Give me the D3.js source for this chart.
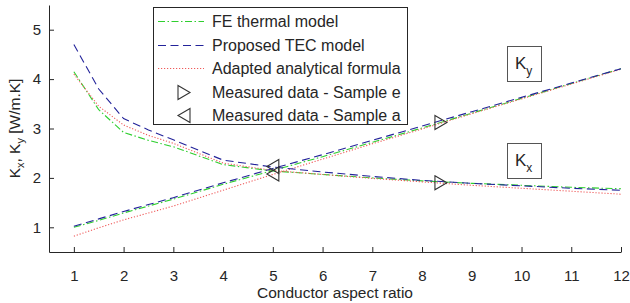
<!DOCTYPE html>
<html><head><meta charset="utf-8">
<script src="https://cdn.jsdelivr.net/npm/d3@7"></script>
<style>body{margin:0;background:#fff}svg{display:block}text{font-family:"Liberation Sans",Arial,sans-serif;fill:#262626}</style>
</head><body><svg id="c" width="630" height="303"></svg>
<script>
const xs = [1, 1.5, 2, 2.5, 3, 4, 5, 6, 7, 8, 9, 10, 11, 12];
// Kx (decreasing) curves
const kxFE   = [4.15, 3.38, 2.92, 2.76, 2.63, 2.27, 2.14, 2.07, 2.00, 1.94, 1.89, 1.85, 1.81, 1.78];
const kxTEC  = [4.70, 3.80, 3.20, 2.97, 2.77, 2.36, 2.22, 2.12, 2.03, 1.95, 1.89, 1.84, 1.79, 1.75];
const kxAna  = [4.10, 3.45, 3.07, 2.86, 2.70, 2.30, 2.15, 2.07, 1.99, 1.92, 1.85, 1.79, 1.73, 1.67];
// Ky (increasing) curves
const kyFE   = [1.00, 1.14, 1.29, 1.43, 1.57, 1.87, 2.15, 2.43, 2.72, 3.01, 3.31, 3.61, 3.91, 4.21];
const kyTEC  = [1.02, 1.17, 1.32, 1.46, 1.60, 1.90, 2.19, 2.47, 2.76, 3.05, 3.34, 3.63, 3.92, 4.21];
const kyAna  = [0.82, 0.99, 1.15, 1.29, 1.43, 1.75, 2.07, 2.38, 2.69, 2.99, 3.30, 3.60, 3.90, 4.20];
const sampleE = [[8.38, 3.12], [8.38, 1.90]];
const sampleA = [[5, 2.23], [5, 2.08]];
const xTicks = [1,2,3,4,5,6,7,8,9,10,11,12];
const yTicks = [1,2,3,4,5];
const legendLabels = ["FE thermal model","Proposed TEC model","Adapted analytical formula","Measured data - Sample e","Measured data - Sample a"];

const svg = d3.select("#c");
const L=49, R=621, T=5, B=252;
const x = d3.scaleLinear().domain([0.5,12]).range([L,R]);
const y = d3.scaleLinear().domain([0.5,5.5]).range([B,T]);
const ax = "#262626";

// axes (MATLAB style, ticks inward)
const gx = svg.append("g").attr("transform",`translate(0,${B})`)
  .call(d3.axisBottom(x).tickValues(xTicks).tickFormat(d3.format("d")).tickSize(-5).tickPadding(18).tickSizeOuter(0));
const gy = svg.append("g").attr("transform",`translate(${L},0)`)
  .call(d3.axisLeft(y).tickValues(yTicks).tickFormat(d3.format("d")).tickSize(-5).tickPadding(8).tickSizeOuter(0));
[gx,gy].forEach(g=>{g.selectAll("path,line").attr("stroke",ax);g.selectAll("text").attr("font-size",15).style("fill",ax);g.attr("font-family",null).attr("font-size",null);});

svg.append("text").attr("x",(L+R)/2).attr("y",298).attr("text-anchor","middle").attr("font-size",15.5).text("Conductor aspect ratio");
const yl = svg.append("text").attr("transform",`translate(20,${(T+B)/2}) rotate(-90)`).attr("text-anchor","middle").attr("font-size",15.5);
yl.append("tspan").text("K");
yl.append("tspan").attr("font-size",11).attr("dy",4).text("x");
yl.append("tspan").attr("dy",-4).text(", K");
yl.append("tspan").attr("font-size",11).attr("dy",4).text("y");
yl.append("tspan").attr("dy",-4).text(" [W/m.K]");

const styles = [
  {c:"#2fcf2f", d:"7,2.5,1.5,2.5"},
  {c:"#23239a", d:"8,4.5"},
  {c:"#ef5a5a", d:"1.2,1.8"}
];
const line = d3.line().x((d,i)=>x(xs[i])).y(d=>y(d));
[[kxFE,kyFE,0],[kxAna,kyAna,2],[kxTEC,kyTEC,1]].forEach(([a,b,s])=>{
  [a,b].forEach(arr=>svg.append("path").attr("d",line(arr)).style("fill","none")
    .style("stroke",styles[s].c).style("stroke-width",1.1).style("stroke-dasharray",styles[s].d));
});

function tri(cx,cy,dir){const w=6,h=7;return dir>0?`M${cx-w},${cy-h}L${cx+w},${cy}L${cx-w},${cy+h}Z`:`M${cx+w},${cy-h}L${cx-w},${cy}L${cx+w},${cy+h}Z`;}
sampleE.forEach(p=>svg.append("path").attr("d",tri(x(p[0]),y(p[1]),1)).attr("fill","none").attr("stroke","#333").attr("stroke-width",1.1));
sampleA.forEach(p=>svg.append("path").attr("d",tri(x(p[0]),y(p[1]),-1)).attr("fill","none").attr("stroke","#333").attr("stroke-width",1.1));

// legend
svg.append("rect").attr("x",153.5).attr("y",7.5).attr("width",254).attr("height",117).attr("fill","#fff").attr("stroke",ax);
legendLabels.forEach((t,i)=>{
  const cy = Math.round(21 + i*23.5) + 0.5;
  if(i<3){svg.append("path").attr("d",`M158,${cy}H204`).style("fill","none")
    .style("stroke",styles[i].c).style("stroke-width",1.2).style("stroke-dasharray",styles[i].d);}
  else {svg.append("path").attr("d",tri(184,cy,i===3?1:-1)).attr("fill","none").attr("stroke","#333").attr("stroke-width",1.1);}
  svg.append("text").attr("x",212).attr("y",cy+5.5).attr("font-size",16).text(t);
});

// K labels in boxes
[["y",46],["x",143]].forEach(([s,top])=>{
  svg.append("rect").attr("x",507.5).attr("y",top+0.5).attr("width",34).attr("height",35).attr("fill","#fff").attr("stroke","#555");
  const t = svg.append("text").attr("x",515).attr("y",top+23).attr("font-size",17);
  t.append("tspan").text("K");
  t.append("tspan").attr("font-size",12).attr("dy",6).text(s);
});
</script></body></html>
